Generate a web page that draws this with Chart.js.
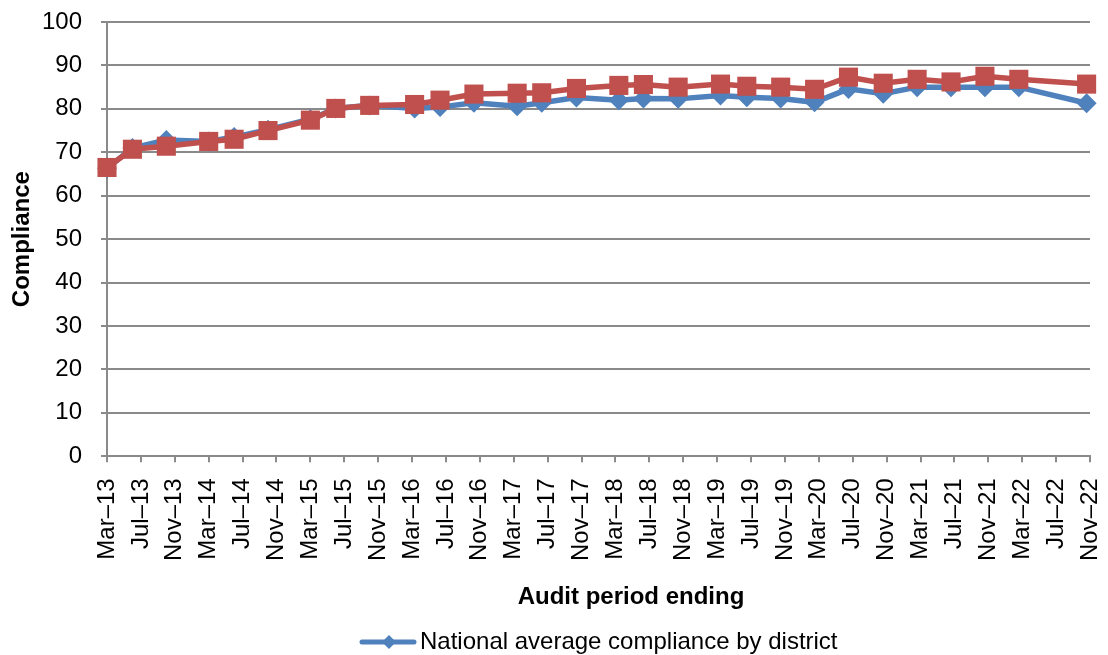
<!DOCTYPE html>
<html>
<head>
<meta charset="utf-8">
<title>Compliance by audit period</title>
<script src="https://cdn.jsdelivr.net/npm/chart.js@4.4.0/dist/chart.umd.min.js"></script>
<style>
    body { margin: 0; background: #fff; }
    #wrap { width: 1108px; height: 655px; }
</style>
</head>
<body>
<div id="wrap"><canvas id="complianceChart"></canvas></div>
<script>
// Axis labels, one every 4 months from Mar 2013
const tickLabels = [
    'Mar–13', 'Jul–13', 'Nov–13', 'Mar–14', 'Jul–14', 'Nov–14',
    'Mar–15', 'Jul–15', 'Nov–15', 'Mar–16', 'Jul–16', 'Nov–16',
    'Mar–17', 'Jul–17', 'Nov–17', 'Mar–18', 'Jul–18', 'Nov–18',
    'Mar–19', 'Jul–19', 'Nov–19', 'Mar–20', 'Jul–20', 'Nov–20',
    'Mar–21', 'Jul–21', 'Nov–21', 'Mar–22', 'Jul–22', 'Nov–22'
];

// Audit periods, in months after Mar 2013
const periodMonths = [
    0, 3, 7, 12, 15, 19, 24, 27, 31, 36.3, 39.3, 43.3, 48.4, 51.3, 55.4,
    60.4, 63.3, 67.4, 72.4, 75.5, 79.5, 83.5, 87.5, 91.6, 95.6, 99.6,
    103.6, 107.6, 115.6
];

// Blue series: national average compliance by district
const districtAverage = [
    66.3, 71.0, 72.8, 72.5, 73.5, 75.2, 77.6, 80.1, 80.8, 80.1, 80.4,
    81.4, 80.6, 81.4, 82.6, 82.0, 82.4, 82.3, 83.1, 82.7, 82.4, 81.5,
    84.6, 83.5, 85.0, 85.0, 85.0, 85.0, 81.3
];

// Red series (its legend entry is cut off in the original)
const secondSeries = [
    66.5, 70.7, 71.4, 72.5, 73.0, 75.0, 77.4, 80.1, 80.8, 81.0, 82.0,
    83.4, 83.6, 83.7, 84.7, 85.4, 85.6, 85.0, 85.7, 85.2, 85.0, 84.5,
    87.3, 85.9, 86.8, 86.2, 87.5, 86.8, 85.7
];

const xTitle = 'Audit period ending';
const yTitle = 'Compliance';
const legendText = 'National average compliance by district';

const FONT = '"Liberation Sans", Arial, sans-serif';
const BLUE = '#4f81bd';
const RED = '#c0504d';
const GRID = '#8a8a8a';

function toPoints(values) {
    return values.map((v, i) => ({ x: periodMonths[i], y: v }));
}

// Draws the x axis title and the single visible legend entry
const bottomLabels = {
    id: 'bottomLabels',
    afterDraw(chart) {
        const ctx = chart.ctx;
        ctx.save();
        ctx.fillStyle = '#000';
        ctx.textBaseline = 'middle';

        ctx.font = 'bold 24px ' + FONT;
        ctx.textAlign = 'center';
        ctx.fillText(xTitle, 631, 597);

        // legend line with diamond marker
        const ly = 642;
        ctx.strokeStyle = BLUE;
        ctx.lineWidth = 5;
        ctx.lineCap = 'round';
        ctx.beginPath();
        ctx.moveTo(362, ly);
        ctx.lineTo(414, ly);
        ctx.stroke();
        ctx.fillStyle = BLUE;
        ctx.beginPath();
        ctx.moveTo(389 - 7, ly);
        ctx.lineTo(389, ly - 7);
        ctx.lineTo(389 + 7, ly);
        ctx.lineTo(389, ly + 7);
        ctx.closePath();
        ctx.fill();

        ctx.fillStyle = '#000';
        ctx.font = '24px ' + FONT;
        ctx.textAlign = 'left';
        ctx.fillText(legendText, 420, ly);
        ctx.restore();
    }
};

const chart = new Chart(document.getElementById('complianceChart'), {
    type: 'line',
    data: {
        datasets: [{
            label: legendText,
            data: toPoints(districtAverage),
            borderColor: BLUE,
            backgroundColor: BLUE,
            borderWidth: 5.5,
            pointStyle: 'rectRot',
            pointRadius: 10,
            pointBorderWidth: 0,
            clip: false,
            order: 1
        }, {
            label: 'Series 2',
            data: toPoints(secondSeries),
            borderColor: RED,
            backgroundColor: RED,
            borderWidth: 5.5,
            pointStyle: 'rect',
            pointRadius: 13.5,
            pointBorderWidth: 0,
            clip: false,
            order: 0
        }]
    },
    options: {
        responsive: true,
        maintainAspectRatio: false,
        animation: false,
        layout: {
            padding: { top: 22, right: 18, bottom: 78, left: 0 }
        },
        plugins: {
            legend: { display: false },
            tooltip: { enabled: false }
        },
        scales: {
            x: {
                type: 'linear',
                min: 0,
                max: 116,
                grid: {
                    drawOnChartArea: false,
                    drawTicks: true,
                    tickLength: 6,
                    color: GRID,
                    lineWidth: 2
                },
                border: { color: GRID, width: 2 },
                ticks: {
                    stepSize: 4,
                    autoSkip: false,
                    minRotation: 90,
                    maxRotation: 90,
                    padding: 16,
                    color: '#000',
                    font: { family: FONT, size: 24 },
                    callback: function(value) {
                        return tickLabels[value / 4];
                    }
                },
                // keep the label overhang from eating into the plot
                afterFit: function(scale) {
                    scale.paddingLeft = 0;
                    scale.paddingRight = 0;
                }
            },
            y: {
                min: 0,
                max: 100,
                grid: {
                    color: GRID,
                    lineWidth: 2,
                    tickLength: 6
                },
                border: { color: GRID, width: 2 },
                ticks: {
                    stepSize: 10,
                    padding: 19,
                    color: '#000',
                    font: { family: FONT, size: 24 }
                },
                title: {
                    display: true,
                    text: yTitle,
                    color: '#000',
                    font: { family: FONT, size: 24, weight: 'bold' },
                    padding: { top: 8, bottom: 5 }
                },
                afterFit: function(scale) {
                    scale.width = 107;
                    scale.paddingTop = 0;
                    scale.paddingBottom = 0;
                }
            }
        }
    },
    plugins: [bottomLabels]
});
</script>
</body>
</html>
